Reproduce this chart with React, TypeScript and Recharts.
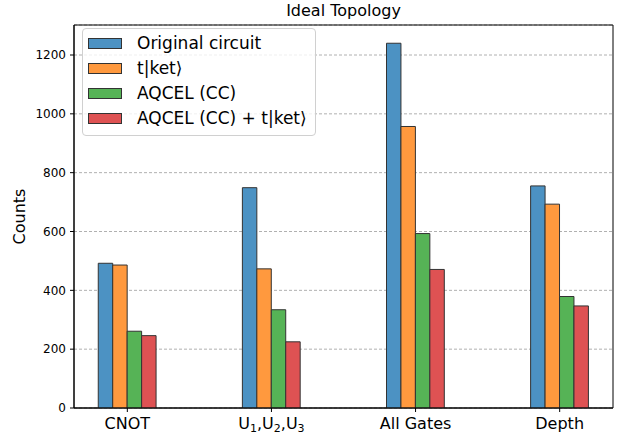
import {
  BarChart,
  Bar,
  XAxis,
  YAxis,
  CartesianGrid,
  ReferenceArea,
} from "recharts";

const categories = ["CNOT", "U1,U2,U3", "All Gates", "Depth"];
const original = [492, 749, 1240, 755];
const tket = [486, 473, 957, 693];
const aqcel = [261, 334, 593, 379];
const aqcelTket = [246, 225, 471, 347];
const yTicks = [0, 200, 400, 600, 800, 1000, 1200];

const series = [
  { key: "orig", name: "Original circuit", color: "rgb(76,146,195)" },
  { key: "tket", name: "t|ket⟩", color: "rgb(255,153,62)" },
  { key: "aqcel", name: "AQCEL (CC)", color: "rgb(86,179,86)" },
  { key: "both", name: "AQCEL (CC) + t|ket⟩", color: "rgb(222,82,83)" },
];

const data = categories.map((c, i) => ({
  x: i,
  orig: original[i],
  tket: tket[i],
  aqcel: aqcel[i],
  both: aqcelTket[i],
}));

const FONT = "'DejaVu Sans', sans-serif";

function XTick({ x, y, payload }: any) {
  const label = categories[payload.value];
  if (label === "U1,U2,U3") {
    return (
      <text x={x} y={y + 15} textAnchor="middle" fontSize={16} fontFamily={FONT} fill="#000">
        <tspan>U</tspan>
        <tspan dy={3} fontSize={11}>1</tspan>
        <tspan dy={-3}>,U</tspan>
        <tspan dy={3} fontSize={11}>2</tspan>
        <tspan dy={-3}>,U</tspan>
        <tspan dy={3} fontSize={11}>3</tspan>
      </text>
    );
  }
  return (
    <text x={x} y={y + 15} textAnchor="middle" fontSize={16} fontFamily={FONT} fill="#000">
      {label}
    </text>
  );
}

function LegendBox() {
  return (
    <div
      style={{
        position: "absolute",
        left: 82,
        top: 28,
        width: 234,
        height: 108,
        border: "1px solid #d0d0d0",
        borderRadius: 4,
        background: "rgba(255,255,255,0.8)",
        fontFamily: FONT,
        fontSize: 17,
        boxSizing: "border-box",
        paddingTop: 2,
      }}
    >
      {series.map((s) => (
        <div key={s.key} style={{ display: "flex", alignItems: "center", height: 25, lineHeight: "25px" }}>
          <div
            style={{
              width: 34,
              height: 11,
              marginLeft: 5,
              marginRight: 15,
              background: s.color,
              border: "1px solid #333",
              boxSizing: "border-box",
            }}
          />
          <span style={{ color: "#000", whiteSpace: "nowrap" }}>{s.name}</span>
        </div>
      ))}
    </div>
  );
}

export default function App() {
  return (
    <div style={{ position: "relative", width: 628, height: 434, background: "#fff" }}>
      <style>{`body{margin:0}`}</style>
      <div
        style={{
          position: "absolute",
          left: 74,
          width: 539,
          top: 0,
          textAlign: "center",
          fontFamily: FONT,
          fontSize: 16,
          lineHeight: "22px",
          color: "#000",
        }}
      >
        Ideal Topology
      </div>
      <BarChart
        width={628}
        height={434}
        data={data}
        margin={{ top: 25, right: 15, bottom: 0, left: 0 }}
        barGap={0}
        barSize={14.45}
      >
        <CartesianGrid
          horizontal
          vertical={false}
          stroke="#b0b0b0"
          strokeDasharray="3 2"
        />
        <XAxis
          dataKey="x"
          type="number"
          domain={[-0.37, 3.37]}
          ticks={[0, 1, 2, 3]}
          allowDataOverflow
          height={26}
          tickSize={4}
          tick={<XTick />}
          axisLine={{ stroke: "#000" }}
          tickLine={{ stroke: "#000" }}
        />
        <YAxis
          width={74}
          domain={[0, 1302]}
          ticks={yTicks}
          allowDataOverflow
          tickSize={4}
          tickMargin={4}
          axisLine={{ stroke: "#000" }}
          tickLine={{ stroke: "#000" }}
          tick={{ fill: "#000", fontSize: 12, fontFamily: FONT }}
          label={(props: any) => {
            const vb = props.viewBox;
            const cy = vb.y + vb.height / 2;
            return (
              <text
                x={25}
                y={cy}
                transform={`rotate(-90, 25, ${cy})`}
                textAnchor="middle"
                fontSize={16}
                fontFamily={FONT}
                fill="#000"
              >
                Counts
              </text>
            );
          }}
        />
        {series.map((s) => (
          <Bar
            key={s.key}
            dataKey={s.key}
            name={s.name}
            fill={s.color}
            stroke="#333"
            strokeWidth={1}
            isAnimationActive={false}
          />
        ))}
        <ReferenceArea
          x1={-0.37}
          x2={3.37}
          y1={0}
          y2={1302}
          fill="none"
          stroke="#000"
          strokeWidth={1}
          ifOverflow="visible"
        />
      </BarChart>
      <LegendBox />
    </div>
  );
}
